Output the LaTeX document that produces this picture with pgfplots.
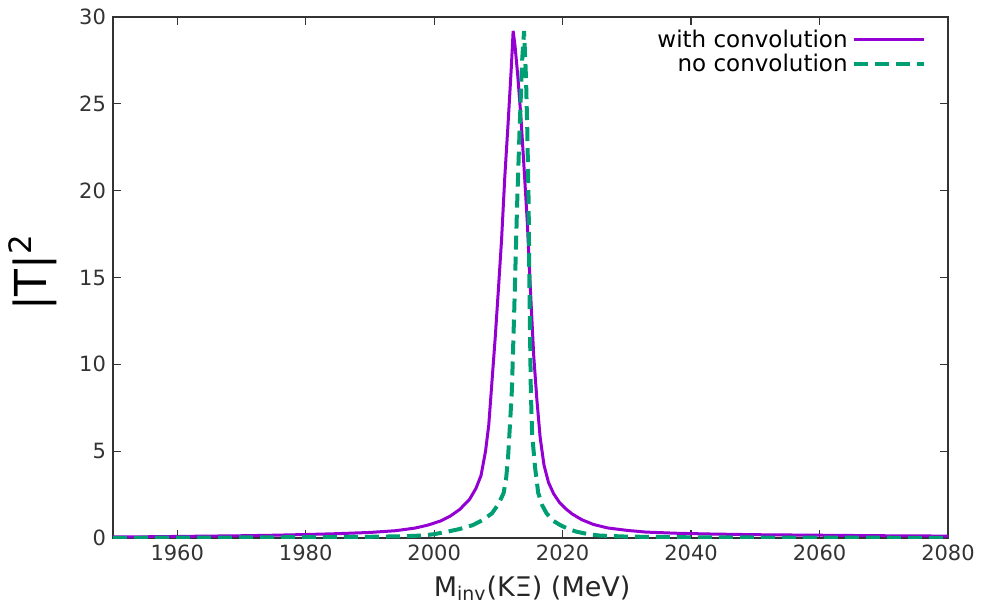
\documentclass[border=0pt]{standalone}
\usepackage{fontspec}
\setmainfont{DejaVu Sans}
\usepackage{pgfplots}
\pgfplotsset{compat=1.18}
\definecolor{cpurple}{HTML}{9400D3}
\definecolor{cgreen}{HTML}{009E73}
\definecolor{caxis}{HTML}{333333}
\begin{document}
\begin{tikzpicture}
\begin{axis}[
  scale only axis,
  width=417.5pt, height=260.5pt,
  xmin=1950, xmax=2080, ymin=0, ymax=30,
  xtick={1960,1980,...,2080},
  ytick={0,5,...,30},
  tick align=inside,
  major tick length=4pt,
  minor tick num=0,
  axis line style={caxis, line width=0.8pt},
  tick style={caxis, line width=0.6pt},
  /pgf/number format/assume math mode=true,
  /pgf/number format/1000 sep={},
  ticklabel style={font=\fontsize{10.5}{12}\selectfont, text=black!80},
  xlabel={M\textsubscript{inv}(KΞ) (MeV)},
  ylabel={|T|\textsuperscript{2}},
  xlabel style={font=\fontsize{13.5}{16}\selectfont, text=black!85, at={(axis description cs:0.502,-0.096)}, anchor=center},
  ylabel style={font=\fontsize{22}{26}\selectfont, at={(axis description cs:-0.096,0.51)}, anchor=center, rotate=0},
  legend style={draw=none, fill=none, at={(axis description cs:0.976,0.988)}, anchor=north east,
    font=\fontsize{11.5}{13}\selectfont, row sep=-2.2pt, inner sep=1pt},
  legend cell align=right,
  legend plot pos=right,
  legend image code/.code={\draw[#1] (3pt,0pt) -- (38pt,0pt);},
]
\addplot[cpurple, line width=1.5pt] coordinates {
(1950,0.06) (1955,0.07) (1960,0.09) (1965,0.11) (1970,0.13) (1975,0.16)
(1980,0.20) (1985,0.25) (1990,0.32) (1994,0.42) (1997,0.57) (1999,0.74)
(2001,0.98) (2002.5,1.26) (2004,1.65) (2005.5,2.22) (2006.5,2.85) (2007.3,3.6)
(2008.0,5.0) (2008.5,6.5) (2009.0,9.0) (2009.5,11.5) (2010.0,14.3) (2010.5,17.2)
(2011.0,20.8) (2011.5,23.8) (2012.0,27.0) (2012.3,29.2) (2012.6,28.3) (2013.0,26.7)
(2013.5,24.3) (2014.0,21.3) (2014.5,18.2) (2015.0,14.2) (2015.5,10.5) (2016.0,7.94)
(2016.5,5.8) (2017.1,4.2) (2017.8,3.2) (2018.6,2.55) (2019.5,2.05) (2020.5,1.68)
(2021.5,1.38) (2023,1.05) (2024.8,0.78) (2027,0.58) (2030,0.44) (2033,0.34)
(2038,0.27) (2043,0.23) (2050,0.19) (2060,0.16) (2070,0.13) (2080,0.11)
};
\addlegendentry{with convolution}
\addplot[cgreen, line width=2pt, dash pattern=on 7pt off 3.5pt] coordinates {
(1950,0.01) (1960,0.02) (1970,0.03) (1980,0.05) (1990,0.07) (1995,0.10)
(1998,0.14) (2000,0.22) (2002,0.36) (2004,0.52) (2006,0.74) (2007.5,1.02)
(2009,1.42) (2010,1.95) (2010.8,2.57) (2011.2,3.4) (2011.5,4.6) (2011.8,6.5)
(2012.1,8.5) (2012.5,13.5) (2012.9,19.0) (2013.3,23.5) (2013.7,27.5) (2014.0,29.2)
(2014.3,26.5) (2014.5,23.5) (2014.7,19.5) (2014.85,14.0) (2015.05,8.5) (2015.25,6.0)
(2015.7,4.1) (2016.2,2.6) (2016.8,1.9) (2017.5,1.42) (2018.5,1.0) (2019.6,0.75)
(2021,0.5) (2022.2,0.36) (2024,0.22) (2025.8,0.14) (2030,0.08) (2040,0.04)
(2060,0.02) (2080,0.01)
};
\addlegendentry{no convolution}
\coordinate (ll) at (rel axis cs:0,0);
\coordinate (ur) at (rel axis cs:1,1);
\end{axis}
\pgfresetboundingbox
\path[use as bounding box] ([xshift=-56.5pt,yshift=-34pt]ll) rectangle ([xshift=19pt,yshift=8.5pt]ur);
\end{tikzpicture}
\end{document}
